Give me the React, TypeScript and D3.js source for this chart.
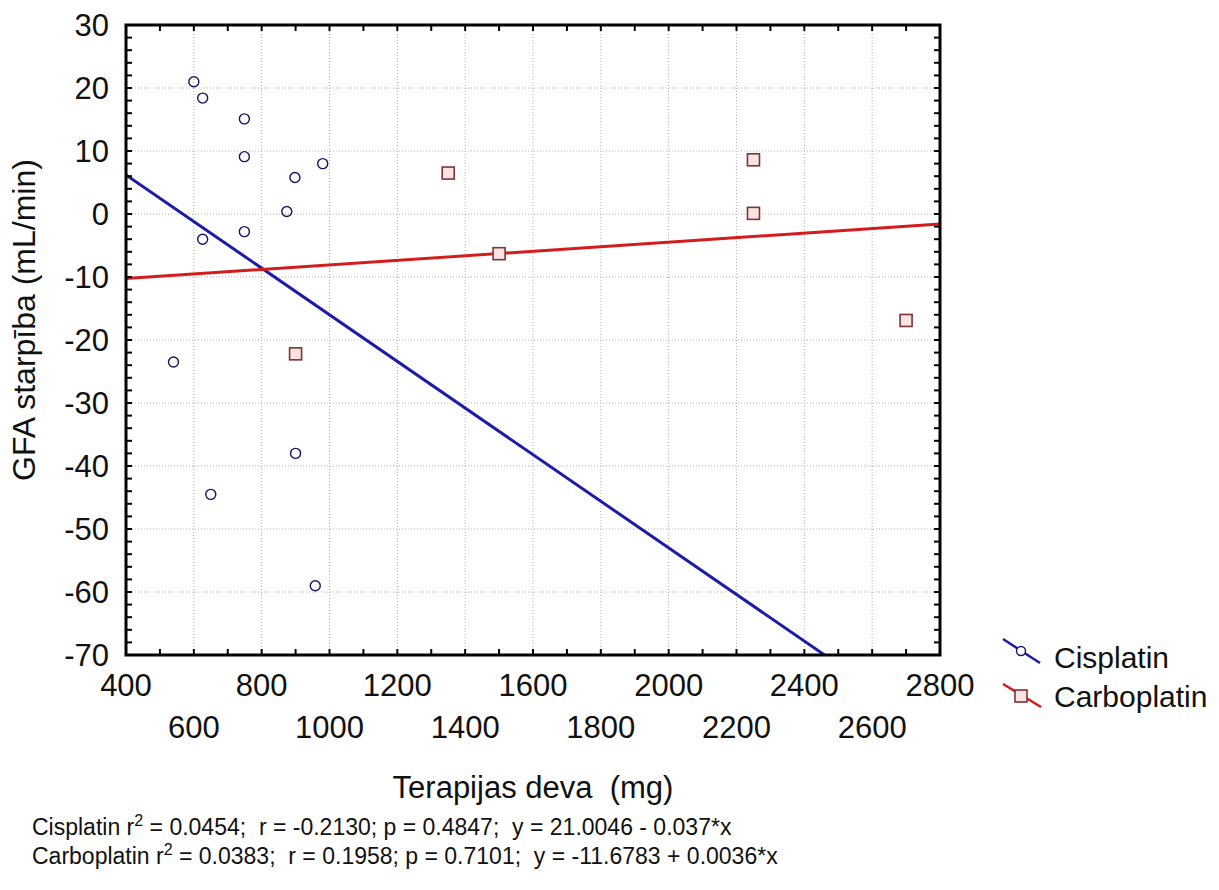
import React from 'react';
import * as d3 from 'd3';

// GFA starpiba vs terapijas deva
const cisDose = [600, 626, 749, 749, 980, 898, 874, 749, 626, 540, 900, 650, 958];
const cisGfa = [21.0, 18.4, 15.1, 9.1, 8.0, 5.8, 0.4, -2.8, -4.0, -23.5, -38.0, -44.5, -59.0];
const carbDose = [900, 1350, 1500, 2250, 2250, 2700];
const carbGfa = [-22.2, 6.5, -6.3, 8.6, 0.1, -16.9];

const seriesNames = ['Cisplatin', 'Carboplatin'];
const fitIntercept = [21.0046, -11.6783];
const fitSlope = [-0.037, 0.0036];

const xTicksUpper = [400, 800, 1200, 1600, 2000, 2400, 2800];
const xTicksLower = [600, 1000, 1400, 1800, 2200, 2600];
const yTicks = [30, 20, 10, 0, -10, -20, -30, -40, -50, -60, -70];

const statLines = [
  ['Cisplatin r', ' = 0.0454;  r = -0.2130; p = 0.4847;  y = 21.0046 - 0.037*x'],
  ['Carboplatin r', ' = 0.0383;  r = 0.1958; p = 0.7101;  y = -11.6783 + 0.0036*x'],
];

const W = 1219, H = 890;
const margin = {top: 25, right: 279, bottom: 235, left: 126};
const x0 = margin.left, x1 = W - margin.right;
const y0 = margin.top, y1 = H - margin.bottom;

const blue = '#1c1ca8';
const red = '#d41c1c';
const navy = '#141464';
const sqStroke = '#7a3535';
const sqFill = '#fbe3e3';
const font = 'Arial, "Liberation Sans", sans-serif';

export default function App() {
  const x = d3.scaleLinear().domain([400, 2800]).range([x0, x1]);
  const y = d3.scaleLinear().domain([-70, 30]).range([y1, y0]);

  const gridX = d3.range(600, 2800, 200);
  const gridY = d3.range(-60, 30, 10);
  const minorX = d3.range(500, 2800, 100);
  const minorY = d3.range(-68, 30, 2);

  const line = d3.line<number>().x(d => x(d[0])).y(d => y(d[1]));
  const fits = fitIntercept.map((a, i) => {
    const b = fitSlope[i];
    return [[400, a + b * 400], [2800, a + b * 2800]];
  });

  const cis = cisDose.map((d, i) => [d, cisGfa[i]]);
  const carb = carbDose.map((d, i) => [d, carbGfa[i]]);

  return (
    <svg width={W} height={H} style={{position: 'absolute', left: 0, top: 0, background: '#fff'}}>
      <defs>
        <clipPath id="plot">
          <rect x={x0} y={y0} width={x1 - x0} height={y1 - y0} />
        </clipPath>
      </defs>
      <rect width={W} height={H} fill="#fff" />

      {/* grid */}
      <g stroke="#b4b4b4" strokeWidth={1} strokeDasharray="1 2">
        {gridX.map(v => <line key={'gx' + v} x1={x(v)} x2={x(v)} y1={y0} y2={y1} />)}
        {gridY.map(v => <line key={'gy' + v} x1={x0} x2={x1} y1={y(v)} y2={y(v)} />)}
      </g>

      {/* fit lines */}
      <g clipPath="url(#plot)" fill="none" strokeWidth={3}>
        <path d={line(fits[0] as any) || ''} stroke={blue} />
        <path d={line(fits[1] as any) || ''} stroke={red} />
      </g>

      {/* points */}
      <g fill="none" stroke={navy} strokeWidth={1.4}>
        {cis.map((d, i) => <circle key={i} cx={x(d[0])} cy={y(d[1])} r={5} />)}
      </g>
      <g fill={sqFill} stroke={sqStroke} strokeWidth={1.6}>
        {carb.map((d, i) => <rect key={i} x={x(d[0]) - 6} y={y(d[1]) - 6} width={12} height={12} />)}
      </g>

      {/* frame + ticks */}
      <g stroke="#000" strokeWidth={2}>
        {minorX.map(v => (
          <g key={'tx' + v}>
            <line x1={x(v)} x2={x(v)} y1={y1} y2={y1 - 6} />
            <line x1={x(v)} x2={x(v)} y1={y0} y2={y0 + 6} />
          </g>
        ))}
        {minorY.map(v => (
          <g key={'ty' + v}>
            <line x1={x0} x2={x0 + 6} y1={y(v)} y2={y(v)} />
            <line x1={x1} x2={x1 - 6} y1={y(v)} y2={y(v)} />
          </g>
        ))}
      </g>
      <rect x={x0} y={y0} width={x1 - x0} height={y1 - y0} fill="none" stroke="#000" strokeWidth={3} />

      {/* tick labels */}
      <g fontFamily={font} fontSize={31} fill="#111">
        {yTicks.map(v => (
          <text key={'yl' + v} x={x0 - 17} y={y(v)} dy="0.36em" textAnchor="end">{v}</text>
        ))}
        {xTicksUpper.map(v => (
          <text key={'xu' + v} x={x(v)} y={685} dy="0.36em" textAnchor="middle">{v}</text>
        ))}
        {xTicksLower.map(v => (
          <text key={'xl' + v} x={x(v)} y={727} dy="0.36em" textAnchor="middle">{v}</text>
        ))}
      </g>

      {/* axis titles */}
      <text x={(x0 + x1) / 2} y={798} textAnchor="middle" fontFamily={font} fontSize={31} fill="#111"
        style={{whiteSpace: 'pre'}}>Terapijas deva  (mg)</text>
      <text transform={`translate(35, 320) rotate(-90)`} textAnchor="middle"
        fontFamily={font} fontSize={32} fill="#111">GFA starpība (mL/min)</text>

      {/* legend */}
      <g>
        <line x1={1003} y1={639} x2={1040} y2={663} stroke={blue} strokeWidth={2.5} />
        <circle cx={1021} cy={651} r={4.5} fill="#fff" stroke={navy} strokeWidth={1.4} />
        <text x={1054} y={668} fontFamily={font} fontSize={30} fill="#111">{seriesNames[0]}</text>
        <line x1={1003} y1={684} x2={1041} y2={707} stroke={red} strokeWidth={2.5} />
        <rect x={1015} y={690} width={12} height={12} fill={sqFill} stroke={sqStroke} strokeWidth={1.6} />
        <text x={1054} y={707} fontFamily={font} fontSize={30} fill="#111">{seriesNames[1]}</text>
      </g>

      {/* regression stats */}
      <g fontFamily='"Liberation Sans Narrow", "Arial Narrow", sans-serif' fontSize={23} fill="#111">
        {statLines.map((s, i) => (
          <text key={i} x={32} y={835 + i * 29} style={{whiteSpace: 'pre'}}>
            {s[0]}<tspan dy={-9} fontSize={16}>2</tspan><tspan dy={9}>{s[1]}</tspan>
          </text>
        ))}
      </g>
    </svg>
  );
}
